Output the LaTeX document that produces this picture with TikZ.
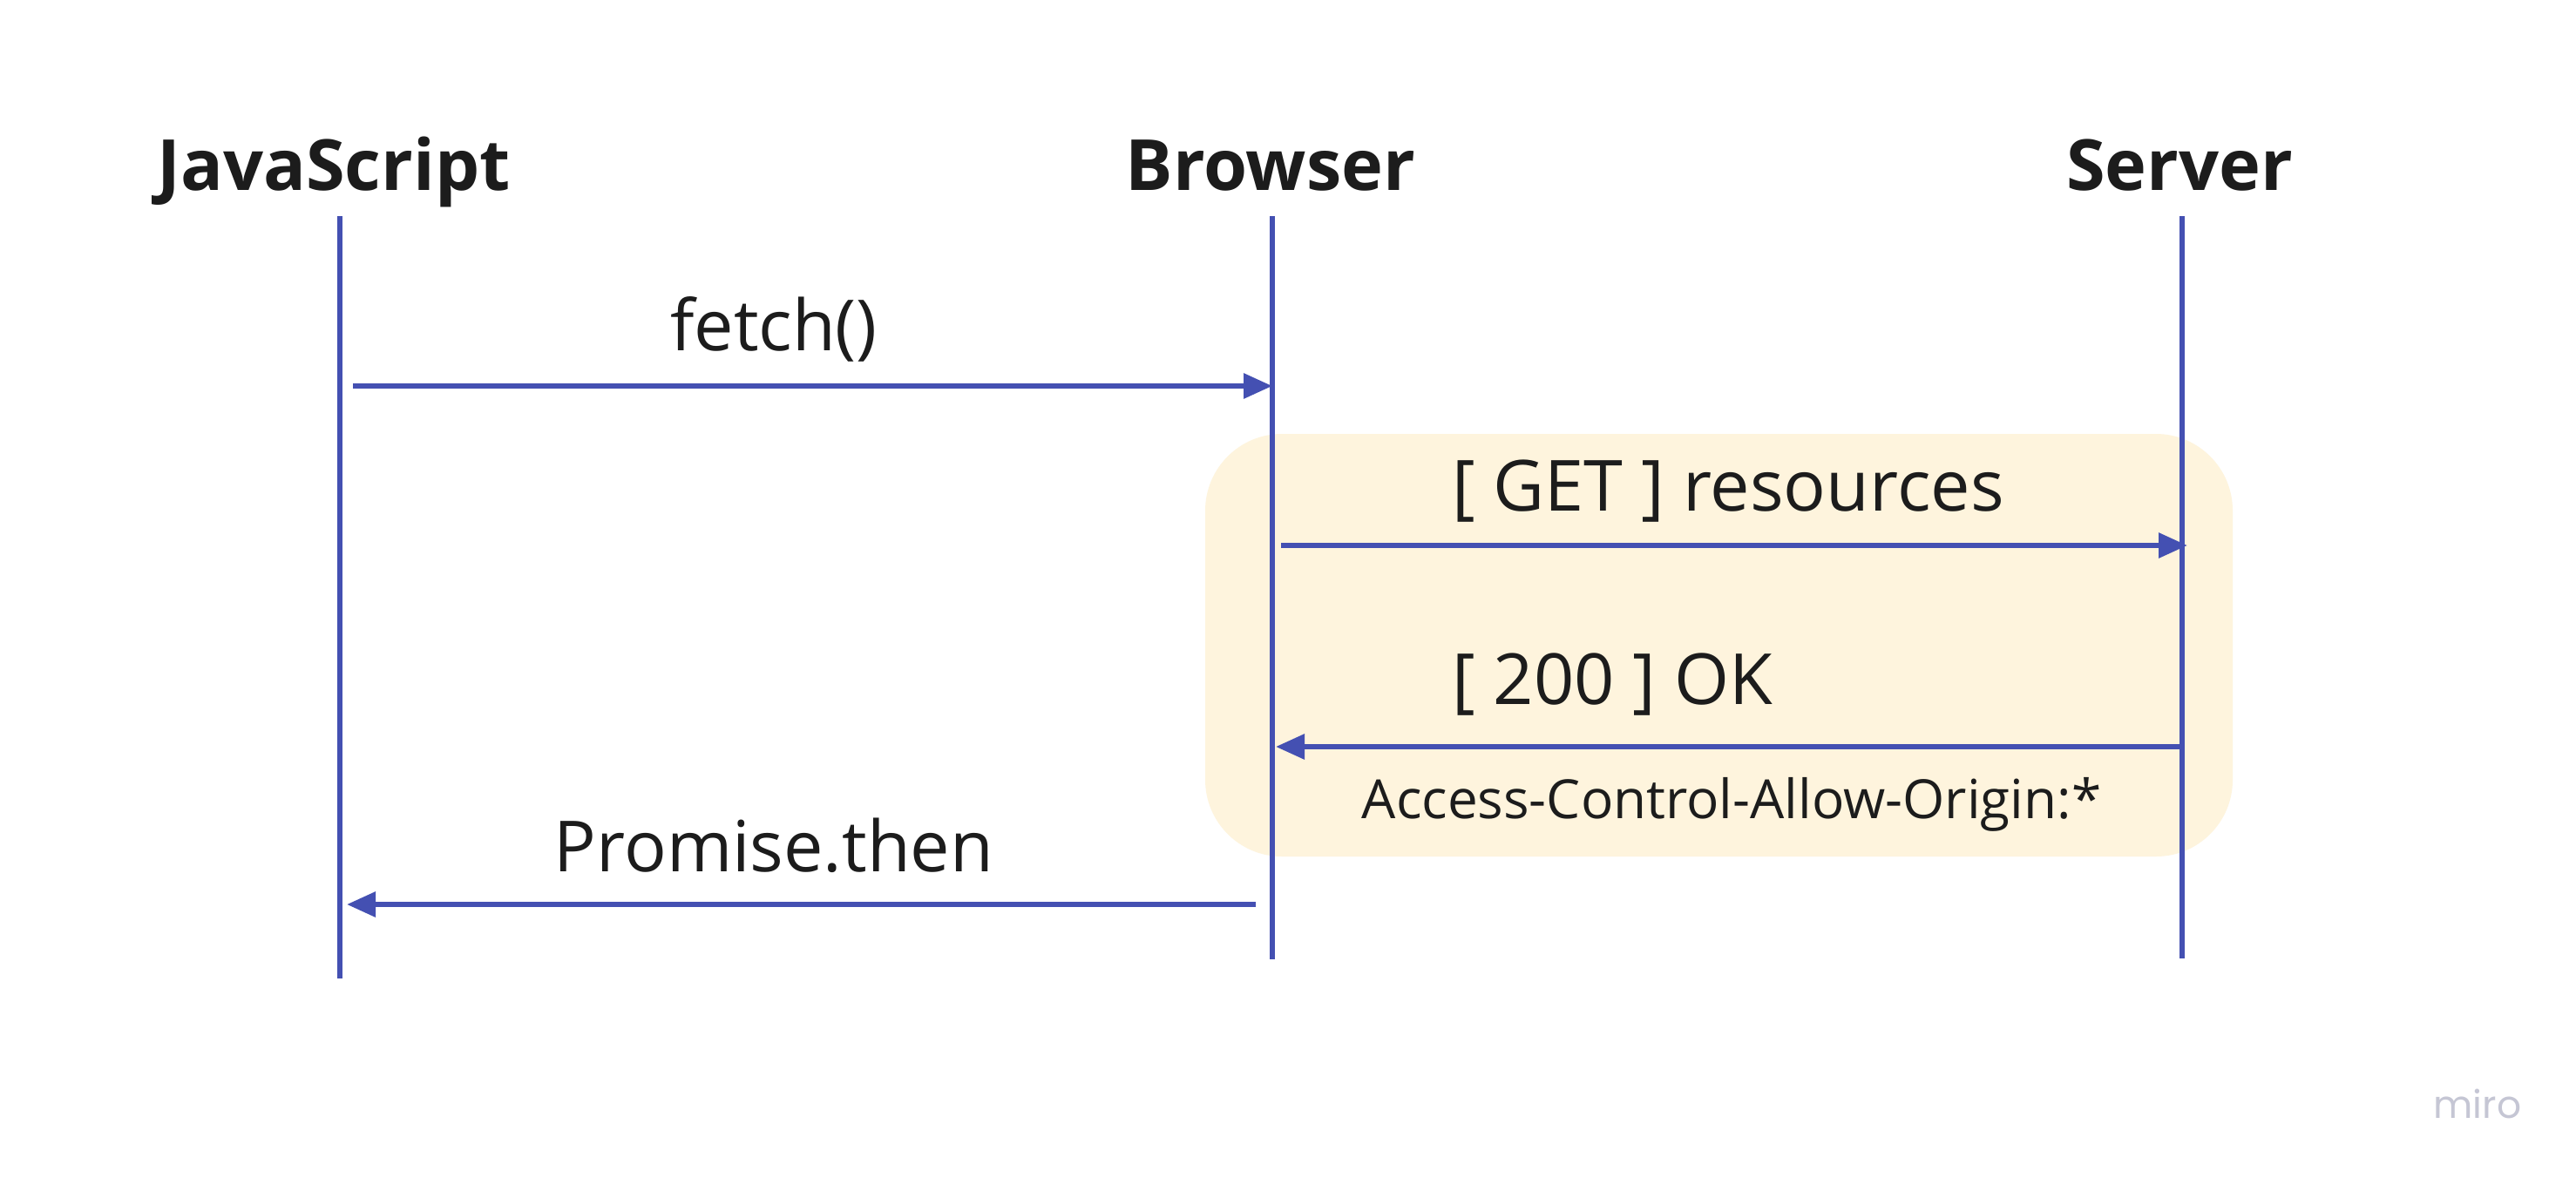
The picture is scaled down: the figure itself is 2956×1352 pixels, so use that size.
\documentclass[tikz,border=0pt]{standalone}
\usepackage{fontspec}
\setmainfont{Open Sans}
\newfontfamily\logofont{Poppins}
\usetikzlibrary{arrows.meta}
\definecolor{lineblue}{HTML}{4450B2}
\definecolor{boxfill}{HTML}{FEF4DD}
\definecolor{txt}{HTML}{1C1C1C}
\definecolor{logogray}{HTML}{C5C6D4}
\tikzset{
  lifeline/.style={draw=lineblue, line width=6pt},
  msg/.style={draw=lineblue, line width=6pt, -{Triangle[length=33pt,width=28pt]}},
  header/.style={anchor=base, inner sep=0pt, text=txt, font=\fontsize{81}{90}\selectfont\bfseries},
  label/.style={anchor=base, inner sep=0pt, text=txt, font=\fontsize{81}{90}\selectfont},
  smalllabel/.style={anchor=base, inner sep=0pt, text=txt, font=\fontsize{62}{70}\selectfont},
}
\begin{document}
\begin{tikzpicture}[x=1pt,y=-1pt]
\useasboundingbox (0,0) rectangle (2956,1352);
\fill[white] (0,0) rectangle (2956,1352);
% highlight box
\fill[boxfill, rounded corners=88pt] (1383,498) rectangle (2562,983);
% headers
\node[header] (js) at (383,218) {JavaScript};
\node[header] (br) at (1458,218) {Browser};
\node[header] (sv) at (2501,218) {Server};
% lifelines
\coordinate (jsTop) at (390,248);
\coordinate (jsBot) at (390,1123);
\coordinate (brTop) at (1460,248);
\coordinate (brBot) at (1460,1101);
\coordinate (svTop) at (2504,248);
\coordinate (svBot) at (2504,1100);
\draw[lifeline] (jsTop) -- (jsBot);
\draw[lifeline] (brTop) -- (brBot);
\draw[lifeline] (svTop) -- (svBot);
% messages
\coordinate (fetchStart) at (405,443);
\draw[msg] (fetchStart) -- (fetchStart -| brTop);
\node[label] (fetchLbl) at (888,402) {fetch()};
\coordinate (getStart) at (1470,626);
\coordinate (getEnd) at (2510,626);
\draw[msg] (getStart) -- (getEnd);
\node[label, anchor=base west] (getLbl) at (1666,586) {[ GET ] resources};
\coordinate (okStart) at (2504,857);
\coordinate (okEnd) at (1464,857);
\draw[msg] (okStart) -- (okEnd);
\node[label, anchor=base west] (okLbl) at (1666,808) {[ 200 ] OK};
\node[smalllabel] (acao) at (1987,939) {Access-Control-Allow-Origin:*};
\coordinate (promStart) at (1441,1038);
\coordinate (promEnd) at (398,1038);
\draw[msg] (promStart) -- (promEnd);
\node[label] (promLbl) at (888,1000) {Promise.then};
% watermark
\node[anchor=base, inner sep=0pt, text=logogray, font=\logofont\fontsize{44}{50}\selectfont] (miro) at (2843,1283) {miro};
\end{tikzpicture}
\end{document}
